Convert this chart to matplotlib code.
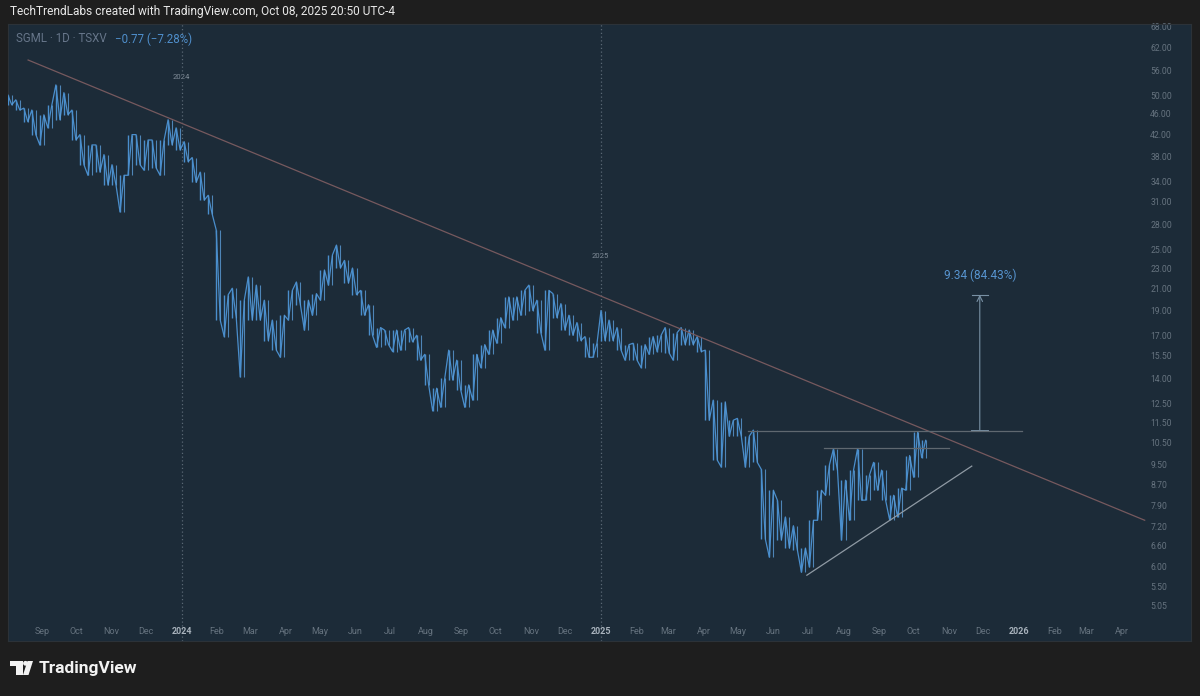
import matplotlib
matplotlib.use('Agg')
import matplotlib.pyplot as plt
import matplotlib.dates as mdates
import matplotlib.patches as mpatches
from matplotlib.transforms import IdentityTransform
from matplotlib.ticker import NullLocator, NullFormatter
import pandas as pd
from datetime import datetime

#### DATA ####################################################
# weekly high / low, week ending Fridays
WEEK_START = '2023-08-04'
week_high = [50.1, 49.0, 47.2, 46.8, 45.8, 47.9, 52.4, 50.6, 46.8, 41.9,
             40.0, 40.0, 38.3, 36.6, 34.9, 41.9, 41.9, 40.9, 40.9, 40.9,
             44.8, 43.2, 40.6, 37.8, 35.4, 31.9, 27.3, 20.4, 21.0, 19.9,
             22.1, 21.3, 19.9, 18.2, 18.6, 20.8, 21.6, 19.9, 20.5, 22.8,
             24.4, 25.5, 23.8, 23.0, 20.8, 19.5, 17.6, 17.4, 17.4, 17.4,
             17.6, 17.0, 15.6, 13.4, 14.0, 15.9, 15.2, 13.6, 15.6, 16.3,
             17.4, 18.4, 20.2, 20.2, 20.8, 21.3, 19.9, 20.8, 20.5, 19.6,
             18.6, 18.0, 16.9, 16.4, 19.0, 18.2, 17.6, 16.3, 16.4, 16.3,
             16.9, 17.0, 17.6, 17.2, 17.6, 17.4, 16.9, 15.9, 12.7, 12.6,
             11.6, 11.7, 10.8, 11.1, 9.30, 8.47, 8.10, 7.51, 7.22, 6.53,
             7.40, 8.47, 9.50, 10.2, 8.86, 9.27, 10.2, 9.07, 9.60, 9.27,
             8.28, 8.55, 9.90, 11.0, 10.6]
week_low = [47.9, 46.8, 44.4, 41.9, 40.0, 43.2, 44.8, 45.8, 40.9, 36.6,
            34.9, 35.4, 33.4, 33.4, 29.6, 34.9, 36.6, 35.7, 36.1, 34.9,
            40.0, 39.1, 37.1, 33.8, 31.2, 29.3, 18.2, 16.9, 18.4, 14.1,
            18.2, 18.2, 16.6, 15.9, 15.4, 18.2, 19.5, 17.4, 18.6, 19.9,
            21.3, 23.0, 21.5, 20.4, 18.6, 17.0, 16.1, 16.3, 15.8, 15.9,
            16.5, 15.2, 13.6, 12.1, 12.3, 13.9, 13.3, 12.3, 12.7, 14.7,
            15.6, 16.4, 17.6, 18.2, 18.6, 19.0, 17.2, 15.9, 18.4, 17.4,
            17.0, 16.6, 15.4, 15.4, 16.6, 16.6, 15.9, 15.2, 15.2, 14.7,
            15.6, 15.8, 15.7, 15.2, 16.3, 16.3, 15.8, 11.6, 9.70, 9.40,
            10.8, 10.8, 9.40, 9.60, 6.80, 6.27, 6.77, 6.53, 6.47, 5.86,
            6.00, 7.40, 8.28, 9.27, 6.77, 7.40, 8.10, 8.10, 8.47, 8.10,
            7.42, 7.51, 8.47, 8.98, 9.81]

price_ticks = [5.05, 5.5, 6.0, 6.6, 7.2, 7.9, 8.7, 9.5, 10.5, 11.5, 12.5, 14.0,
               15.5, 17.0, 19.0, 21.0, 23.0, 25.0, 28.0, 31.0, 34.0, 38.0,
               42.0, 46.0, 50.0, 56.0, 62.0, 68.0]

# drawings: (date, price) pairs
down_trend = [('2023-08-20', 58.6), ('2026-04-21', 7.40)]
up_trend = [('2025-06-30', 5.78), ('2025-11-21', 9.44)]
resist_top = [('2025-05-10', 11.06), ('2026-01-04', 11.06)]
resist_mid = [('2025-07-15', 10.22), ('2025-11-01', 10.22)]
measure_date = '2025-11-28'
measure_from, measure_to = 11.06, 20.40
measure_label = '9.34 (84.43%)'

#### STYLE ###################################################
W, H = 1200, 696
BG_OUT = '#1e1e1e'
BG_IN = '#1c2b38'
BLUE = '#4a8ecc'
GREY_TXT = '#66737f'

plt.rcParams['font.family'] = ['Roboto', 'DejaVu Sans']


def d(s):
    return mdates.date2num(datetime.fromisoformat(s))


def px(x, y):
    # figure fraction from image pixel position (top-left origin)
    return x / W, 1 - y / H


#### PLOT ####################################################
fig = plt.figure(figsize=(W / 100, H / 100), dpi=100, facecolor=BG_OUT)
ax = fig.add_axes([7.5 / W, 1 - 641 / H, 1183 / W, 617 / H])
ax.set_facecolor(BG_IN)
for sp in ax.spines.values():
    sp.set_color('#2c3238')

ax.set_yscale('log')
ax.set_ylim(4.30, 68.9)
ax.set_xlim(d('2023-08-02'), d('2026-05-31'))

# price bars
dates = mdates.date2num(pd.date_range(WEEK_START, periods=len(week_high), freq='7D').to_pydatetime())
n = len(dates)
xs, ys = [], []
for i in range(n):
    up = i == n - 1 or (week_high[i + 1] + week_low[i + 1]) >= (week_high[i] + week_low[i])
    a, b = (week_low[i], week_high[i]) if up else (week_high[i], week_low[i])
    xs += [dates[i] - 1.75, dates[i] + 1.75]
    ys += [a, b]
ax.plot(xs, ys, color=BLUE, lw=0.9, zorder=3)
ax.vlines(dates - 1.75, week_low, week_high, color=BLUE, lw=1.0, zorder=3)
ax.vlines(dates + 1.75, week_low, week_high, color='#5b9dd8', lw=0.8, alpha=0.8, zorder=3)

# year separators
for yr, lab_price in [('2024-01-01', 54.3), ('2025-01-01', 24.3)]:
    ax.axvline(d(yr), color='#5a6874', lw=0.9, ls=(0, (1, 2)), zorder=1)
    ax.text(d(yr), lab_price, yr[:4], ha='center', va='center', fontsize=5.5,
            color='#7f8b97', zorder=2,
            bbox=dict(boxstyle='square,pad=0.25', fc=BG_IN, ec='none'))

# trend lines and levels
ax.plot([d(p[0]) for p in down_trend], [p[1] for p in down_trend], color='#76595e', lw=0.9, zorder=4)
ax.plot([d(p[0]) for p in up_trend], [p[1] for p in up_trend], color='#8f9aa4', lw=0.9, zorder=4)
ax.plot([d(p[0]) for p in resist_top], [p[1] for p in resist_top], color='#5f6870', lw=0.9, zorder=4)
ax.plot([d(p[0]) for p in resist_mid], [p[1] for p in resist_mid], color='#5f6870', lw=0.9, zorder=4)

# measure tool
MC = '#7890a4'
md = d(measure_date)
ax.annotate('', xy=(md, measure_to), xytext=(md, measure_from),
            arrowprops=dict(arrowstyle='->', color=MC, lw=0.8, shrinkA=0, shrinkB=0))
ax.plot([md - 7, md + 7], [measure_to, measure_to], color=MC, lw=0.8)
ax.plot([md - 7, md + 7], [measure_from, measure_from], color=MC, lw=1.4)
ax.text(md, 22.3, measure_label, ha='center', va='center', fontsize=8.5, color='#5794cf')

# axes ticks
ax.yaxis.tick_right()
ax.set_yticks(price_ticks)
ax.set_yticklabels([f'{v:.2f}' for v in price_ticks])
ax.yaxis.set_minor_locator(NullLocator())
ax.yaxis.set_minor_formatter(NullFormatter())
ax.tick_params(axis='y', length=0, pad=-29, labelsize=6.2, labelcolor=GREY_TXT)

month_ticks = pd.date_range('2023-09-01', '2026-04-01', freq='MS')
ax.set_xticks(mdates.date2num(month_ticks.to_pydatetime()))
ax.set_xticklabels([str(m.year) if m.month == 1 else m.strftime('%b') for m in month_ticks])
ax.tick_params(axis='x', length=0, pad=-10, labelsize=6.5, labelcolor=GREY_TXT)
for lab, m in zip(ax.get_xticklabels(), month_ticks):
    if m.month == 1:
        lab.set_color('#a9b3bd')
        lab.set_fontweight('bold')

# header / legend
fig.text(*px(10, 12), 'TechTrendLabs created with TradingView.com, Oct 08, 2025 20:50 UTC-4',
         color='#e8e8e8', fontsize=8.6, va='center', ha='left')
fig.text(*px(16, 39), 'SGML · 1D · TSXV', color='#67768a', fontsize=8.3, va='center')
fig.text(*px(115, 39), '\u22120.77 (\u22127.28%)', color='#4f8fcc', fontsize=8.3, va='center')

# TradingView logo
tr = IdentityTransform()
def R(x0, y0, x1, y1):
    return mpatches.Rectangle((x0, H - y1), x1 - x0, y1 - y0, transform=tr, fc='#f2f2f2', ec='none')
fig.add_artist(R(9.5, 661, 22.5, 665.5))
fig.add_artist(R(15.5, 661, 22.5, 675))
fig.add_artist(mpatches.Circle((25.5, H - 663.3), 2.4, transform=tr, fc='#f2f2f2', ec='none'))
fig.add_artist(mpatches.Polygon([(27.5, H - 661), (33, H - 661), (28.5, H - 675), (23, H - 675)],
                                closed=True, transform=tr, fc='#f2f2f2', ec='none'))
fig.text(*px(39, 668), 'TradingView', color='#f2f2f2', fontsize=12.5, fontweight='bold', va='center')

fig.savefig('out.png', dpi=100, facecolor=fig.get_facecolor())
